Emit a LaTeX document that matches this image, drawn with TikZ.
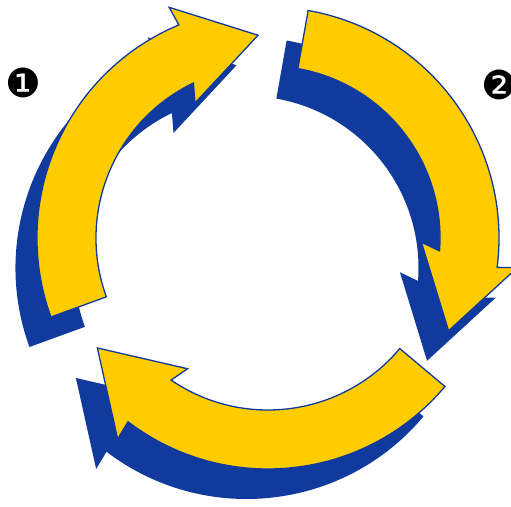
\documentclass[tikz,border=0pt]{standalone}
\usepackage{fontspec}
\newfontfamily\dingfont{DejaVu Sans}
\definecolor{cycleblue}{RGB}{16,58,158}
\definecolor{cycleyellow}{RGB}{255,204,0}
% one curved arrow of the cycle, in polar coordinates round its centre
\newcommand{\cyclearrow}[1]{%
  \path[#1] (200:231) arc[start angle=200, end angle=112.7, radius=231]
    -- (113.2:251) -- (92.8:203) -- (118.4:153.5) -- (115.7:172)
    arc[start angle=115.7, end angle=200, radius=172] -- cycle;}
\begin{document}
\begin{tikzpicture}[x=1pt,y=1pt,
  arrowshadow/.style={fill=cycleblue},
  arrowbody/.style={fill=cycleyellow, draw=cycleblue, line width=1.3pt},
  bullet/.style={font=\dingfont\fontsize{40}{40}\selectfont, inner sep=0pt}]
  \useasboundingbox (0,0) rectangle (511,506);

  % shadows, shifted down and left
  \foreach \r in {0,-120,-240}{
    \begin{scope}[shift={(246.5,238)}, rotate=\r]
      \cyclearrow{arrowshadow}
    \end{scope}}

  % yellow arrows on top
  \foreach \r in {0,-120,-240}{
    \begin{scope}[shift={(268,268)}, rotate=\r]
      \cyclearrow{arrowbody}
    \end{scope}}

  % step numbers
  \node[bullet] (one) at (23,423) {❶};
  \node[bullet] (two) at (499,421) {❷};
\end{tikzpicture}
\end{document}
